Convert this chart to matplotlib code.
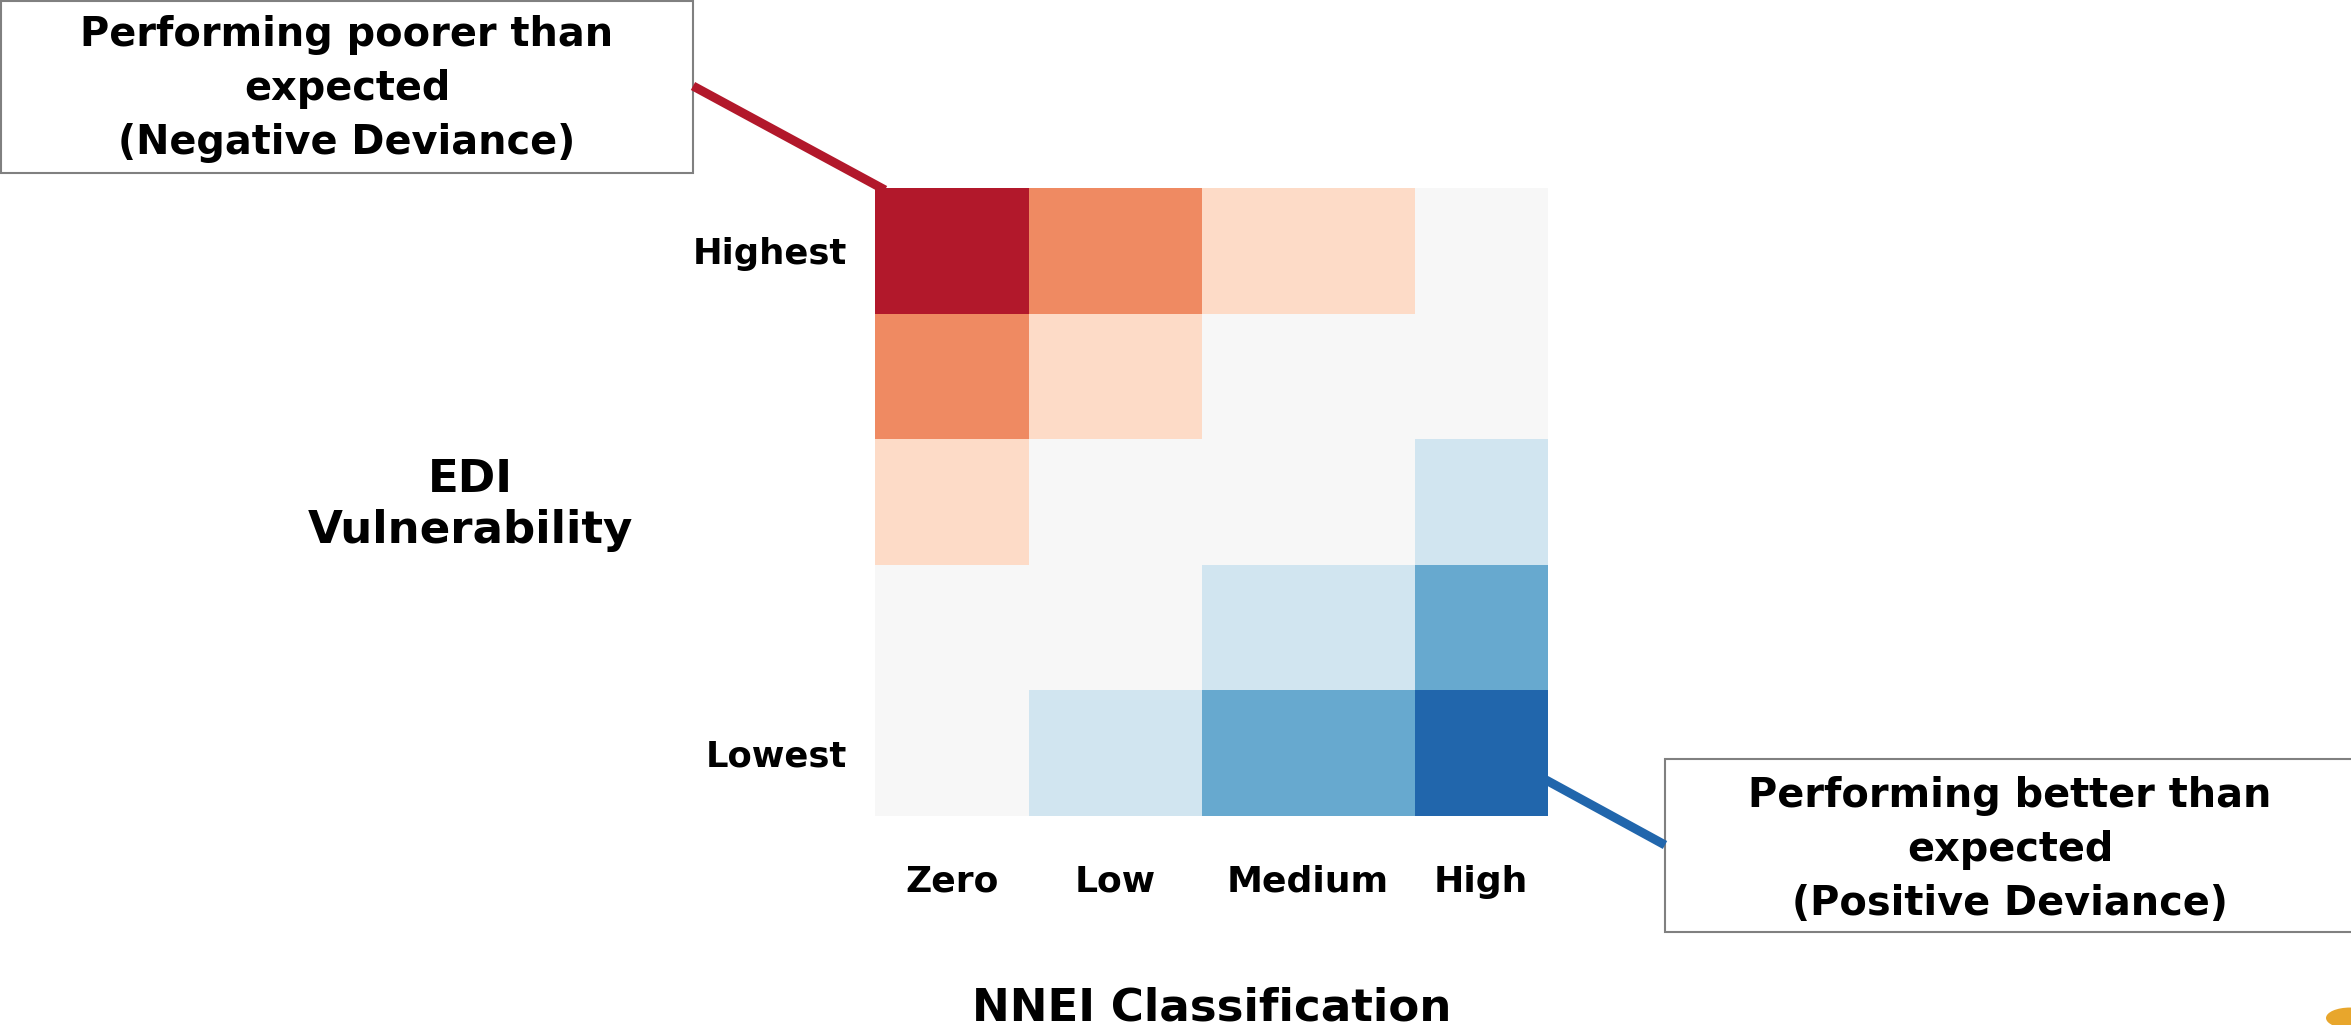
import numpy as np
import matplotlib
matplotlib.use("Agg")
import matplotlib.pyplot as plt
import matplotlib.patches as patches
from matplotlib.colors import ListedColormap, BoundaryNorm
from matplotlib.lines import Line2D

plt.rcParams['font.family'] = ['DejaVu Sans']
plt.rcParams['font.weight'] = 'bold'

# NNEI classification (columns) vs EDI vulnerability (rows, highest -> lowest)
nnei_labels = ['Zero', 'Low', 'Medium', 'High']
edi_labels = ['Highest', '', '', '', 'Lowest']

# deviance class: -3 = much poorer than expected ... +3 = much better
deviance = [
    [-3, -2, -1, 0],
    [-2, -1, 0, 0],
    [-1, 0, 0, 1],
    [0, 0, 1, 2],
    [0, 1, 2, 3],
]

# column widths as drawn in the source (unequal)
col_widths = [103, 115, 142, 89]

rdbu7 = ['#b2182b', '#ef8a62', '#fddbc7', '#f7f7f7', '#d1e5f0', '#67a9cf', '#2166ac']

W, H = 2351, 1025
fig = plt.figure(figsize=(W / 100, H / 100), dpi=100)

ax = fig.add_axes([875 / W, 1 - 816 / H, 673 / W, 628 / H])

x_edges = np.concatenate([[0], np.cumsum(col_widths)])
y_edges = np.arange(len(edi_labels) + 1)
cmap = ListedColormap(rdbu7)
norm = BoundaryNorm(np.arange(-3.5, 4.5, 1), cmap.N)
ax.pcolormesh(x_edges, y_edges, np.array(deviance), cmap=cmap, norm=norm)
ax.set_xlim(x_edges[0], x_edges[-1])
ax.set_ylim(y_edges[-1], y_edges[0])

x_centers = (x_edges[:-1] + x_edges[1:]) / 2
ax.set_xticks(x_centers)
ax.set_xticklabels(nnei_labels, fontsize=26, fontweight='bold')
ax.set_yticks(y_edges[:-1] + 0.5)
ax.set_yticklabels(edi_labels, fontsize=25.5, fontweight='bold')
ax.tick_params(axis='x', length=0, pad=35)
ax.tick_params(axis='y', length=0, pad=20)
for s in ax.spines.values():
    s.set_visible(False)

fig.text(470 / W, 1 - 505 / H, 'EDI\nVulnerability', ha='center', va='center',
         fontsize=32.5, fontweight='bold', linespacing=1.25)
fig.text(1212 / W, 1 - 1008 / H, 'NNEI Classification', ha='center', va='center',
         fontsize=32.5, fontweight='bold')

# callout boxes
box1 = patches.Rectangle((1 / W, 1 - 173 / H), 692 / W, 172 / H, transform=fig.transFigure,
                         facecolor='white', edgecolor='#808080', lw=1.5)
fig.add_artist(box1)
fig.text(347 / W, 1 - 89 / H, 'Performing poorer than\nexpected\n(Negative Deviance)',
         ha='center', va='center', fontsize=28.7, fontweight='bold', linespacing=1.45)

box2 = patches.Rectangle((1665 / W, 1 - 932 / H), 700 / W, 173 / H, transform=fig.transFigure,
                         facecolor='white', edgecolor='#808080', lw=1.5)
fig.add_artist(box2)
fig.text(2010 / W, 1 - 850 / H, 'Performing better than\nexpected\n(Positive Deviance)',
         ha='center', va='center', fontsize=28.7, fontweight='bold', linespacing=1.45)

# connector lines
fig.add_artist(Line2D([693 / W, 885 / W], [1 - 86 / H, 1 - 190 / H], transform=fig.transFigure,
                      color=rdbu7[0], lw=6.5, solid_capstyle='butt'))
fig.add_artist(Line2D([1546 / W, 1665 / W], [1 - 780 / H, 1 - 845 / H], transform=fig.transFigure,
                      color=rdbu7[-1], lw=6.5, solid_capstyle='butt'))

# partial logo mark in the corner
fig.add_artist(patches.Circle((2350 / W, 1 - 1018 / H), 24 / W, transform=fig.transFigure,
                              facecolor='#e8a62c', edgecolor='none'))

fig.savefig('out.png', dpi=100)
